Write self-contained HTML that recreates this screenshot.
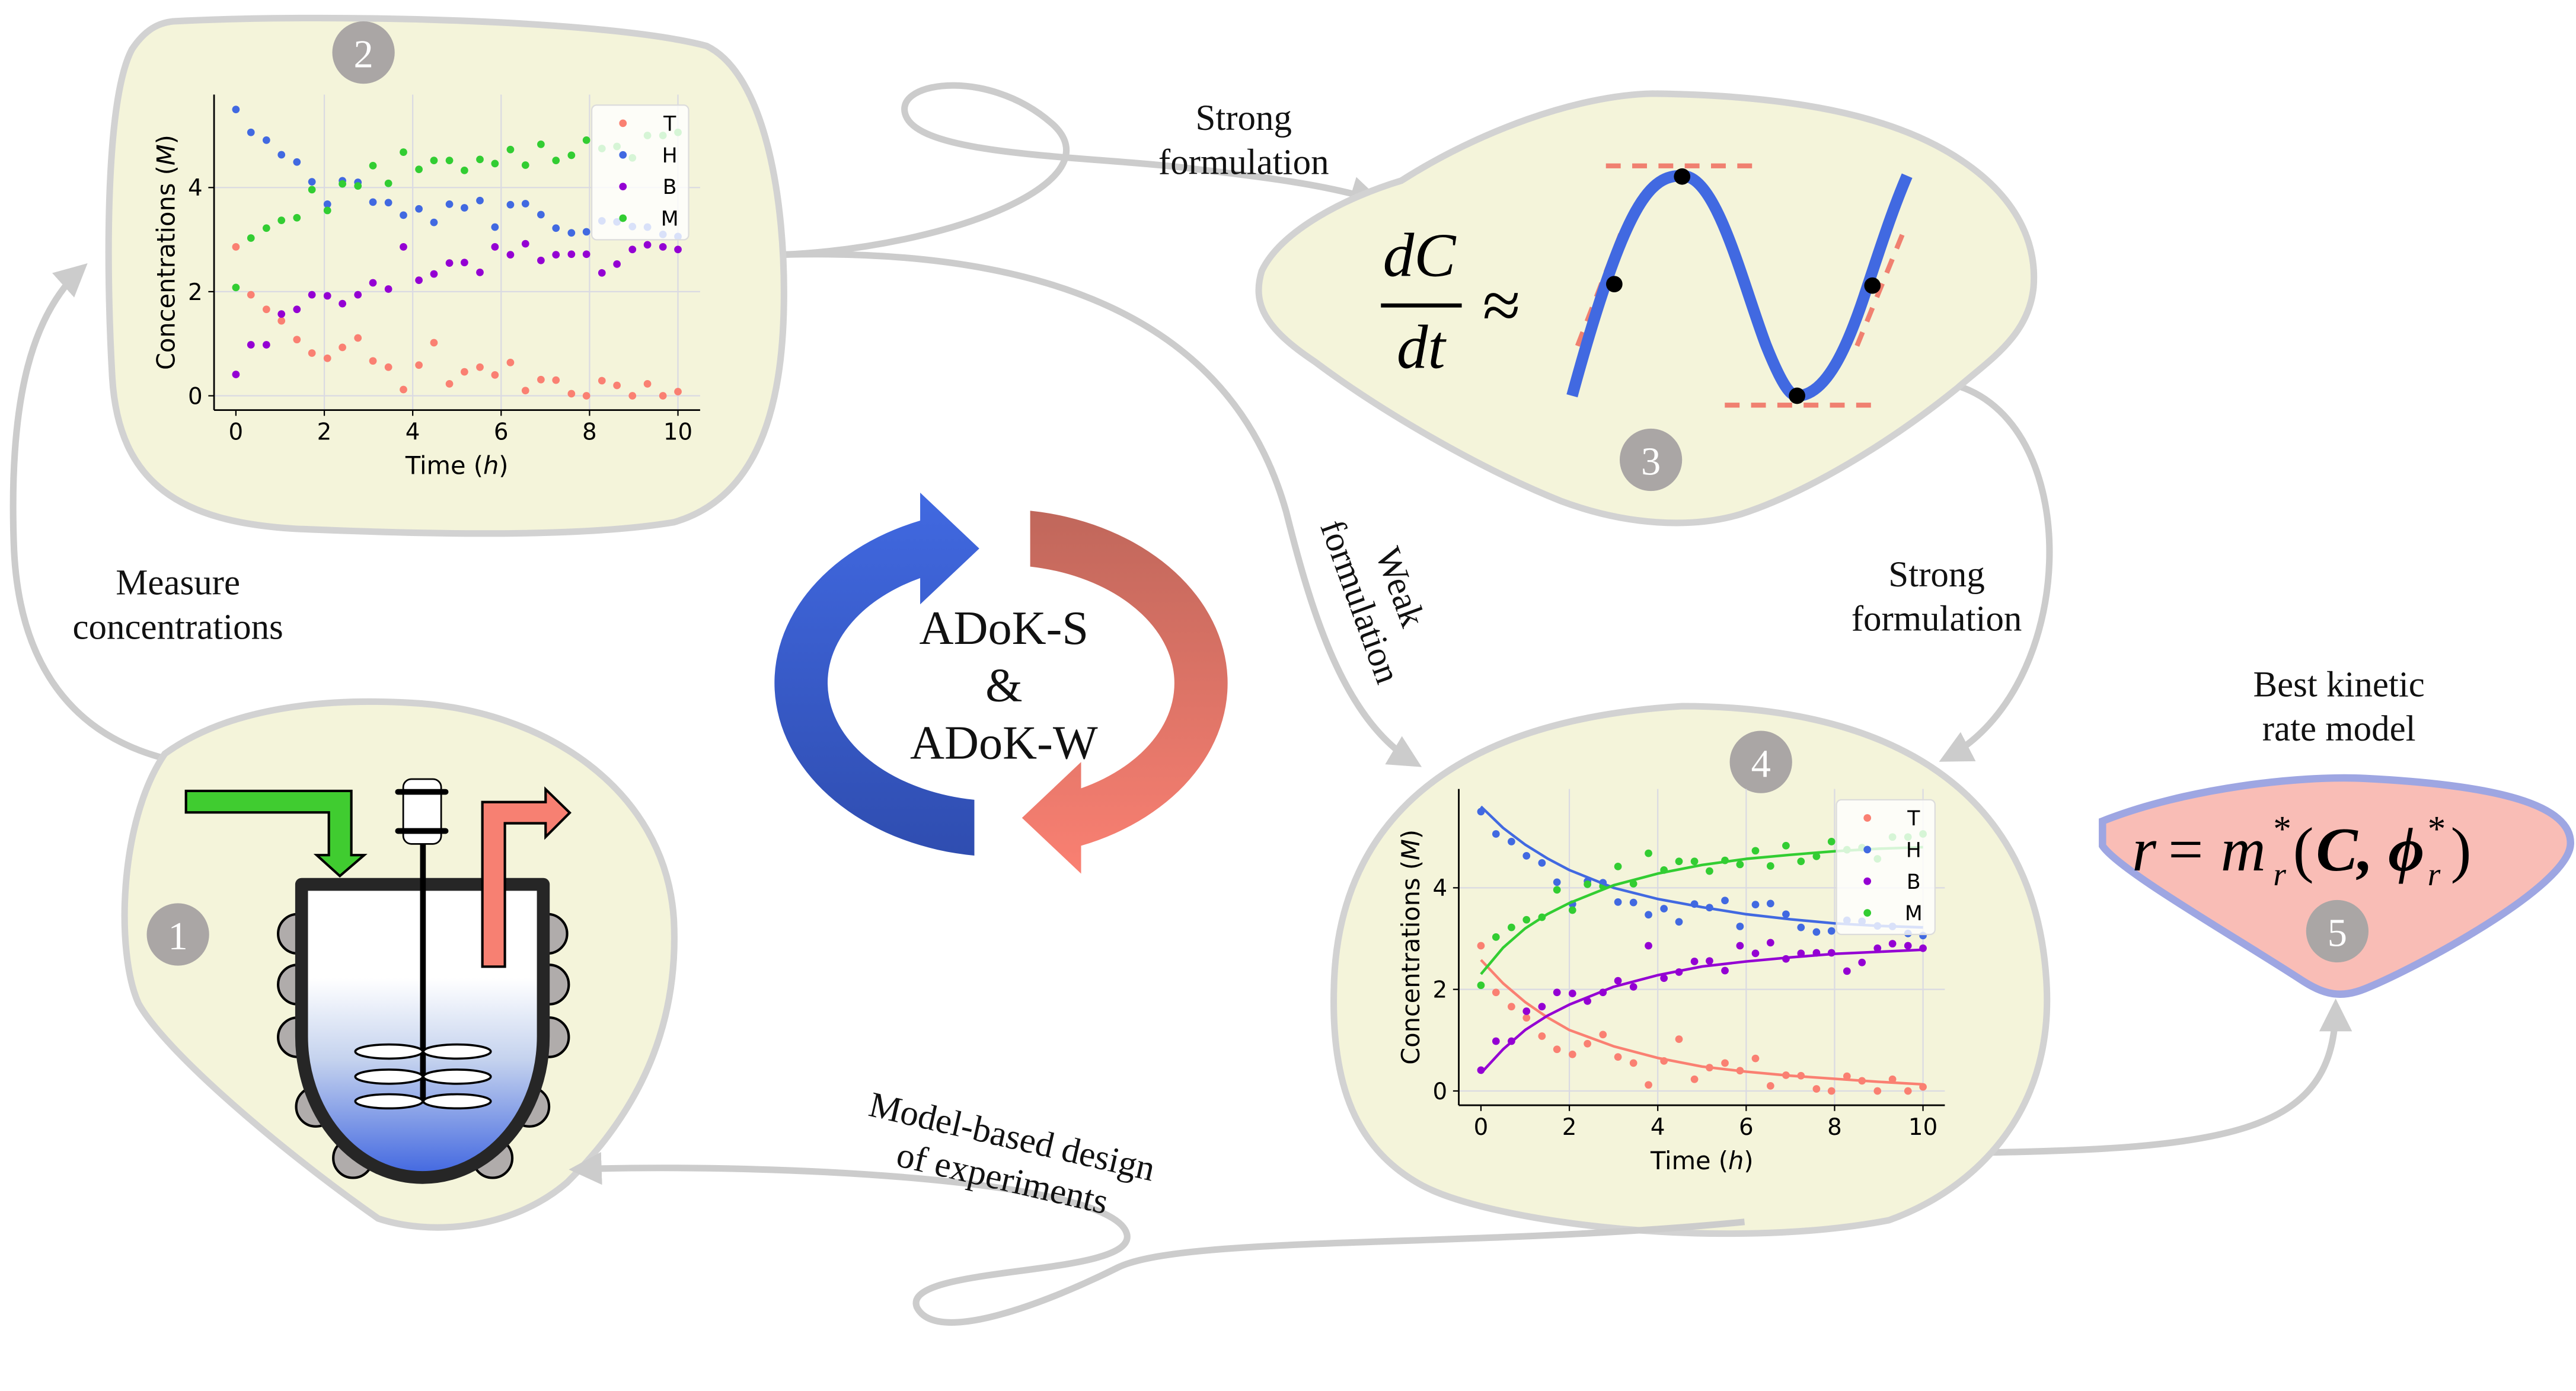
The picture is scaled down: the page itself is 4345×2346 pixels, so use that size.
<!DOCTYPE html>
<html><head><meta charset="utf-8"><style>
html,body{margin:0;padding:0;background:#fff;}
svg{display:block;}
.serif{font-family:"Liberation Serif","DejaVu Serif",serif;}
.sans{font-family:"DejaVu Sans","Liberation Sans",sans-serif;}
</style></head><body>
<svg id="root" width="4345" height="2346" viewBox="0 0 1568 847" xmlns="http://www.w3.org/2000/svg">
<defs>
<marker id="ah" viewBox="0 0 10 10" refX="8" refY="5" markerWidth="5" markerHeight="5" orient="auto-start-reverse" markerUnits="strokeWidth">
<path d="M0,0 L10,5 L0,10 Z" fill="#cccccc"/></marker>
<linearGradient id="vesselGrad" x1="0" y1="0" x2="0" y2="1">
<stop offset="0" stop-color="#ffffff"/><stop offset="0.32" stop-color="#ffffff"/><stop offset="0.6" stop-color="#c4d2ee"/><stop offset="1" stop-color="#3f65e0"/></linearGradient>
<linearGradient id="blueGrad" x1="0" y1="0" x2="0" y2="1">
<stop offset="0" stop-color="#4169e1"/><stop offset="1" stop-color="#2f4db0"/></linearGradient>
<linearGradient id="redGrad" x1="0" y1="0" x2="0" y2="1">
<stop offset="0" stop-color="#c0675b"/><stop offset="1" stop-color="#fa8072"/></linearGradient>
</defs>

<g fill="none" stroke="#cccccc" stroke-width="4">
<path d="M97,461 C40,445 10,400 8,330 C5,240 20,190 50,163" marker-end="url(#ah)"/>
<path d="M478,155 C580,150 680,110 640,75 C600,40 540,50 552,72 C565,95 660,95 720,102 C770,108 805,112 838,122" marker-end="url(#ah)"/>
<path d="M478,155 C690,150 760,230 783,312 C800,380 820,440 862,465" marker-end="url(#ah)"/>
<path d="M1192,235 C1270,260 1265,420 1184,462" marker-end="url(#ah)"/>
<path d="M1195,702 C1360,700 1422,690 1422,612" marker-end="url(#ah)"/>
</g>

<g fill="#f4f4da" stroke="#d2d2d2" stroke-width="4">
<path d="M105,13 C200,8 370,12 430,28 C465,45 478,120 477,185 C476,260 455,305 410,318 C350,328 250,325 180,322 C110,318 72,295 68,230 C64,160 64,60 80,30 C88,18 96,14 105,13 Z"/>
<path d="M1006,57 C1090,58 1150,70 1190,95 C1230,120 1240,150 1238,175 C1235,205 1210,220 1192,236 C1150,270 1100,300 1060,313 C1030,322 990,320 950,305 C900,285 840,250 800,220 C770,200 762,185 768,165 C780,140 820,120 853,110 C900,80 960,58 1006,57 Z"/>
<path d="M100,459 C140,430 200,425 250,428 C330,432 405,480 410,560 C414,640 375,690 345,720 C310,750 260,752 230,742 C170,700 100,640 84,611 C70,580 72,500 100,459 Z"/>
<path d="M1024,430 C1150,430 1240,480 1246,600 C1250,680 1200,725 1150,743 C1050,762 910,745 866,722 C825,700 810,660 812,600 C814,520 860,440 1024,430 Z"/>
<path d="M1280,500 C1330,480 1400,472 1440,474 C1520,478 1566,490 1565,514 C1564,540 1470,590 1440,602 C1425,608 1415,606 1400,596 C1360,570 1290,530 1280,515 Z" fill="#f9bdb6" stroke="#9ea6e2" stroke-width="4.5"/>
</g>
<path d="M1062,744 C900,760 720,752 680,772 C640,792 570,820 558,796 C548,770 690,778 686,752 C680,718 470,708 350,712" fill="none" stroke="#cccccc" stroke-width="4" marker-end="url(#ah)"/>

<g class="serif" font-size="24" fill="#fff" text-anchor="middle">
<g><circle cx="221" cy="32" r="19" fill="#aaa6a5"/><text x="221" y="41">2</text></g>
<g><circle cx="1005" cy="280" r="19" fill="#aaa6a5"/><text x="1005" y="289">3</text></g>
<g><circle cx="1072" cy="464" r="19" fill="#aaa6a5"/><text x="1072" y="473">4</text></g>
<g><circle cx="108" cy="569" r="19" fill="#aaa6a5"/><text x="108" y="578">1</text></g>
<g><circle cx="1423" cy="567" r="19" fill="#aaa6a5"/><text x="1423" y="576">5</text></g>
</g>

<g class="serif" font-size="22" fill="#111" text-anchor="middle">
<text x="757" y="79"><tspan x="757">Strong</tspan><tspan x="757" dy="27">formulation</tspan></text>
<text x="1179" y="357"><tspan x="1179">Strong</tspan><tspan x="1179" dy="27">formulation</tspan></text>
<text x="108" y="362"><tspan x="108">Measure</tspan><tspan x="108" dy="27">concentrations</tspan></text>
<text x="1424" y="424"><tspan x="1424">Best kinetic</tspan><tspan x="1424" dy="27">rate model</tspan></text>
<g transform="translate(840,362) rotate(70)"><text x="0" y="-6">Weak</text><text x="0" y="20">formulation</text></g>
<g transform="translate(613,705) rotate(13)"><text x="0" y="-6">Model-based design</text><text x="0" y="20">of experiments</text></g>
</g>

<path d="M593,521 A139,106 0 0 1 560,317 L560,300 L596,334 L560,368 L560,352 A105,72 0 0 0 593,487 Z" fill="url(#blueGrad)"/>
<path d="M627,311 A139,106 0 0 1 658,515 L658,532 L622,498 L658,464 L658,480 A105,72 0 0 0 627,345 Z" fill="url(#redGrad)"/>
<g class="serif" font-size="29" fill="#111" text-anchor="middle">
<text x="611" y="392">ADoK-S</text><text x="611" y="427">&amp;</text><text x="611" y="462">ADoK-W</text></g>

<g stroke="#000" stroke-width="1.5">
<g fill="#b0acab">
<circle cx="181" cy="568.6" r="12"/><circle cx="181" cy="599.5" r="12"/><circle cx="181" cy="631.6" r="12"/><circle cx="192" cy="673.9" r="12"/><circle cx="214.6" cy="705.2" r="12"/>
<circle cx="333" cy="568.6" r="12"/><circle cx="334" cy="599.5" r="12"/><circle cx="334" cy="631.6" r="12"/><circle cx="322" cy="673.9" r="12"/><circle cx="299.6" cy="705.2" r="12"/>
</g>
<path d="M183.3,538.5 L330.5,538.5 L330.5,631 A73.6,86 0 0 1 183.3,631 Z" fill="url(#vesselGrad)" stroke="#262626" stroke-width="7.8" stroke-linejoin="round"/>
<line x1="257.2" y1="514" x2="257.2" y2="672" stroke="#000" stroke-width="3.5"/>
<g fill="#fff" stroke-width="1.3">
<ellipse cx="236.5" cy="640.3" rx="20.5" ry="4.3"/><ellipse cx="278" cy="640.3" rx="20.5" ry="4.3"/>
<ellipse cx="236.5" cy="655.6" rx="20.5" ry="4.3"/><ellipse cx="278" cy="655.6" rx="20.5" ry="4.3"/>
<ellipse cx="236.5" cy="670.6" rx="20.5" ry="4.3"/><ellipse cx="278" cy="670.6" rx="20.5" ry="4.3"/>
</g>
<rect x="245.2" y="474.4" width="23.1" height="39.5" rx="5" fill="#fff" stroke-width="1"/>
<line x1="242" y1="482.2" x2="271" y2="482.2" stroke-width="3.5" stroke-linecap="round"/>
<line x1="242" y1="506" x2="271" y2="506" stroke-width="3.5" stroke-linecap="round"/>
<path d="M112.9,481.6 L213.6,481.6 L213.6,520.7 L221.4,520.7 L206.6,533.4 L192.5,520.7 L199.9,520.7 L199.9,494.7 L112.9,494.7 Z" fill="#40cc30"/>
<path d="M293.4,588.6 L293.4,488.4 L331.9,488.4 L331.9,480.6 L346.6,494.9 L331.9,509.6 L331.9,501.3 L307.1,501.3 L307.1,588.6 Z" fill="#f78072"/>
</g>

<g>
<g class="serif" font-style="italic" font-size="38" fill="#000" text-anchor="middle">
<text x="864" y="168">dC</text><text x="865" y="224">dt</text></g>
<line x1="840.6" y1="186" x2="889.8" y2="186" stroke="#000" stroke-width="2.5"/>
<text x="914" y="200" class="serif" font-size="42" text-anchor="middle">≈</text>
<g stroke="#f08070" stroke-width="3" stroke-dasharray="9,7" fill="none">
<line x1="977.6" y1="101" x2="1070.6" y2="101"/><line x1="1050" y1="246.7" x2="1143" y2="246.7"/>
<line x1="960.3" y1="210.6" x2="988.7" y2="137"/><line x1="1130.5" y1="210.6" x2="1160.5" y2="137"/></g>
<path d="M957,241 C990,120 1005,107 1024,107 C1045,107 1060,170 1075,210 C1085,235 1090,241 1094,241 C1112,241 1125,210 1135,180 C1145,150 1152,128 1161,107" fill="none" stroke="#4169e1" stroke-width="7"/>
<g fill="#000"><circle cx="982.7" cy="173" r="5"/><circle cx="1024" cy="107.5" r="5"/><circle cx="1094" cy="241" r="5"/><circle cx="1139.9" cy="173.9" r="5"/></g>
</g>

<g class="serif" fill="#000">
<text x="1298" y="530" font-size="38" font-style="italic">r</text>
<text x="1320" y="530" font-size="38">=</text>
<text x="1352" y="530" font-size="38" font-style="italic">m</text>
<text x="1384" y="512" font-size="22">*</text>
<text x="1384" y="539" font-size="20" font-style="italic">r</text>
<text x="1396" y="530" font-size="38">(</text>
<text x="1410" y="530" font-size="38" font-weight="bold" font-style="italic">C,</text>
<text x="1454" y="530" font-size="38" font-weight="bold" font-style="italic">ϕ</text>
<text x="1478" y="512" font-size="22">*</text>
<text x="1478" y="539" font-size="20" font-style="italic">r</text>
<text x="1492" y="530" font-size="38">)</text>
</g>

<g id="plot2"></g>
<g id="plot4"></g>
</svg>
<script>
const times = [0,0.34,0.69,1.03,1.38,1.72,2.07,2.41,2.76,3.10,3.45,3.79,4.14,4.48,4.83,5.17,5.52,5.86,6.21,6.55,6.90,7.24,7.59,7.93,8.28,8.62,8.97,9.31,9.66,10];
const seriesT = [2.86,1.94,1.66,1.44,1.08,0.82,0.72,0.93,1.11,0.67,0.55,0.12,0.59,1.02,0.23,0.46,0.55,0.40,0.64,0.10,0.31,0.30,0.04,0.0,0.29,0.20,0.0,0.23,0.0,0.08];
const seriesH = [5.50,5.06,4.91,4.63,4.49,4.11,3.68,4.13,4.10,3.72,3.71,3.47,3.59,3.33,3.68,3.61,3.75,3.24,3.67,3.69,3.48,3.22,3.13,3.15,3.36,3.34,3.25,3.24,3.10,3.06];
const seriesB = [0.41,0.98,0.98,1.57,1.66,1.94,1.92,1.77,1.94,2.17,2.05,2.86,2.22,2.34,2.55,2.56,2.37,2.86,2.71,2.92,2.60,2.71,2.72,2.72,2.36,2.53,2.81,2.90,2.86,2.81];
const seriesM = [2.08,3.03,3.22,3.37,3.42,3.96,3.56,4.07,4.03,4.42,4.08,4.68,4.35,4.52,4.52,4.33,4.54,4.46,4.73,4.43,4.83,4.52,4.62,4.91,4.75,4.79,4.57,5.00,5.00,5.06];
const fitTimes = [0,0.5,1,1.5,2,3,4,5,6,7,8,9,10];
const fitT = [2.58,2.12,1.75,1.45,1.20,0.88,0.65,0.48,0.38,0.30,0.24,0.18,0.13];
const fitH = [5.60,5.18,4.85,4.58,4.35,4.00,3.78,3.62,3.48,3.38,3.30,3.25,3.22];
const fitB = [0.35,0.82,1.20,1.48,1.70,2.05,2.28,2.45,2.55,2.63,2.70,2.74,2.78];
const fitM = [2.30,2.82,3.20,3.48,3.70,4.05,4.28,4.45,4.57,4.65,4.72,4.77,4.80];
const xTicks = [0,2,4,6,8,10];
const yTicks = [0,2,4];
const seriesNames = ['T','H','B','M'];
const seriesColors = ['#fa8072','#4169e1','#9400d3','#32cd32'];

const NS='http://www.w3.org/2000/svg';
function mk(parent,tag,attrs,text){const e=document.createElementNS(NS,tag);for(const k in attrs)e.setAttribute(k,attrs[k]);if(text!==undefined)e.textContent=text;parent.appendChild(e);return e;}

function drawPlot(gid,G,withFit){
  const g=document.getElementById(gid);
  const X=v=>G.x0+(G.x10-G.x0)*v/10;
  const Y=v=>G.y0+(G.y4-G.y0)*v/4;
  xTicks.forEach(t=>{if(t>0){const l=mk(g,'line',{x1:X(t),x2:X(t),y1:G.top,y2:G.bottom,stroke:'#dadae2','stroke-width':0.8});
    
    }});
  yTicks.forEach(t=>{const l=mk(g,'line',{x1:G.left,x2:G.right,y1:Y(t),y2:Y(t),stroke:'#dadae2','stroke-width':0.8});
    
    });
  const data=[seriesT,seriesH,seriesB,seriesM];
  const fits=[fitT,fitH,fitB,fitM];
  data.forEach((s,si)=>{s.forEach((v,i)=>{const c=mk(g,'circle',{cx:X(times[i]),cy:Y(v),r:2.3,fill:seriesColors[si]});
    
    });});
  if(withFit){fits.forEach((s,si)=>{const d=s.map((v,i)=>(i?'L':'M')+X(fitTimes[i]).toFixed(2)+','+Y(v).toFixed(2)).join(' ');
    const p=mk(g,'path',{d:d,fill:'none',stroke:seriesColors[si],'stroke-width':1.6,'stroke-linejoin':'round'});
    
    });}
  mk(g,'line',{x1:G.left,x2:G.left,y1:G.top,y2:G.bottom,stroke:'#000','stroke-width':1});
  mk(g,'line',{x1:G.left,x2:G.right,y1:G.bottom,y2:G.bottom,stroke:'#000','stroke-width':1});
  xTicks.forEach(t=>{mk(g,'line',{x1:X(t),x2:X(t),y1:G.bottom,y2:G.bottom+3.5,stroke:'#000','stroke-width':0.8});
    const tx=mk(g,'text',{x:X(t),y:G.bottom+18,'text-anchor':'middle','font-size':14,class:'sans'},String(t));
    
    });
  yTicks.forEach(t=>{mk(g,'line',{x1:G.left-3.5,x2:G.left,y1:Y(t),y2:Y(t),stroke:'#000','stroke-width':0.8});
    const tx=mk(g,'text',{x:G.left-7,y:Y(t)+5,'text-anchor':'end','font-size':14,class:'sans'},String(t));
    
    });
  const xl=mk(g,'text',{x:(X(0)+X(10))/2,y:G.bottom+39,'text-anchor':'middle','font-size':15,class:'sans'});
  
  
  mk(xl,'tspan',{},'Time (');mk(xl,'tspan',{'font-style':'italic'},'h');mk(xl,'tspan',{},')');
  const yl=mk(g,'text',{x:0,y:0,'text-anchor':'middle','font-size':15,class:'sans',transform:'translate('+G.ylabX+','+((G.top+G.bottom)/2)+') rotate(-90)'});
  
  
  mk(yl,'tspan',{},'Concentrations (');mk(yl,'tspan',{'font-style':'italic'},'M');mk(yl,'tspan',{},')');
  const lg=mk(g,'rect',{x:G.lx1,y:G.ly1,width:G.lx2-G.lx1,height:G.ly2-G.ly1,rx:3,fill:'#ffffff','fill-opacity':0.8,stroke:'#dcdcdc','stroke-width':0.8});
  
  
  seriesNames.forEach((n,i)=>{const yy=G.ly1+(G.ly2-G.ly1)*(0.135+0.235*i);
    const m=mk(g,'circle',{cx:G.lmx,cy:yy,r:2.3,fill:seriesColors[i]});
    
    
    const t=mk(g,'text',{x:G.ltx,y:yy+4.5,'text-anchor':'middle','font-size':12.5,class:'sans'},n);
    
    });
}
drawPlot('plot2',{x0:143.3,x10:412.5,y0:241,y4:114.2,left:130,right:426,top:57.6,bottom:249.7,ylabX:106,lx1:360,lx2:419,ly1:64,ly2:146,lmx:379,ltx:407.5},false);
drawPlot('plot4',{x0:901.5,x10:1170.7,y0:664.3,y4:540.6,left:888,right:1184,top:480.4,bottom:673,ylabX:864,lx1:1118,lx2:1178,ly1:487,ly2:569,lmx:1136.8,ltx:1165},true);
</script>
</body></html>
